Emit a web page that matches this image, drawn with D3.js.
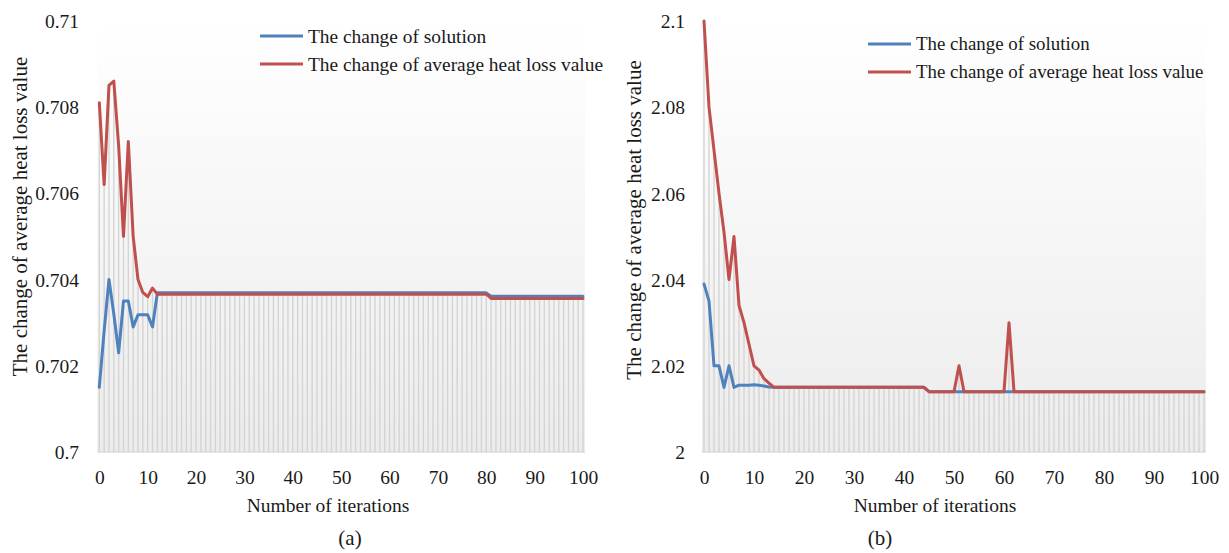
<!DOCTYPE html>
<html>
<head>
<meta charset="utf-8">
<script src="https://cdn.jsdelivr.net/npm/d3@7"></script>
<style>
  html, body { margin: 0; padding: 0; background: #ffffff; }
  svg { display: block; }
  svg text { font-family: "Times New Roman", "Liberation Serif", "DejaVu Serif", serif; fill: #1a1a1a; }
</style>
</head>
<body>
<svg id="chart" width="1229" height="553"></svg>
<script>
// Iteration index shared by both panels
const iterations = [
  0, 1, 2, 3, 4, 5, 6, 7, 8, 9,
  10, 11, 12, 13, 14, 15, 16, 17, 18, 19,
  20, 21, 22, 23, 24, 25, 26, 27, 28, 29,
  30, 31, 32, 33, 34, 35, 36, 37, 38, 39,
  40, 41, 42, 43, 44, 45, 46, 47, 48, 49,
  50, 51, 52, 53, 54, 55, 56, 57, 58, 59,
  60, 61, 62, 63, 64, 65, 66, 67, 68, 69,
  70, 71, 72, 73, 74, 75, 76, 77, 78, 79,
  80, 81, 82, 83, 84, 85, 86, 87, 88, 89,
  90, 91, 92, 93, 94, 95, 96, 97, 98, 99,
  100
];

// Panel (a)
const solutionA = [
  0.7015, 0.7028, 0.7040, 0.7032, 0.7023, 0.7035, 0.7035, 0.7029, 0.70318, 0.70318,
  0.70318, 0.7029, 0.70369, 0.70369, 0.70369, 0.70369, 0.70369, 0.70369, 0.70369, 0.70369,
  0.70369, 0.70369, 0.70369, 0.70369, 0.70369, 0.70369, 0.70369, 0.70369, 0.70369, 0.70369,
  0.70369, 0.70369, 0.70369, 0.70369, 0.70369, 0.70369, 0.70369, 0.70369, 0.70369, 0.70369,
  0.70369, 0.70369, 0.70369, 0.70369, 0.70369, 0.70369, 0.70369, 0.70369, 0.70369, 0.70369,
  0.70369, 0.70369, 0.70369, 0.70369, 0.70369, 0.70369, 0.70369, 0.70369, 0.70369, 0.70369,
  0.70369, 0.70369, 0.70369, 0.70369, 0.70369, 0.70369, 0.70369, 0.70369, 0.70369, 0.70369,
  0.70369, 0.70369, 0.70369, 0.70369, 0.70369, 0.70369, 0.70369, 0.70369, 0.70369, 0.70369,
  0.70369, 0.70361, 0.70361, 0.70361, 0.70361, 0.70361, 0.70361, 0.70361, 0.70361, 0.70361,
  0.70361, 0.70361, 0.70361, 0.70361, 0.70361, 0.70361, 0.70361, 0.70361, 0.70361, 0.70361,
  0.70361
];
const heatLossA = [
  0.7081, 0.7062, 0.7085, 0.7086, 0.7071, 0.7050, 0.7072, 0.7050, 0.7040, 0.7037,
  0.7036, 0.7038, 0.70366, 0.70366, 0.70366, 0.70366, 0.70366, 0.70366, 0.70366, 0.70366,
  0.70366, 0.70366, 0.70366, 0.70366, 0.70366, 0.70366, 0.70366, 0.70366, 0.70366, 0.70366,
  0.70366, 0.70366, 0.70366, 0.70366, 0.70366, 0.70366, 0.70366, 0.70366, 0.70366, 0.70366,
  0.70366, 0.70366, 0.70366, 0.70366, 0.70366, 0.70366, 0.70366, 0.70366, 0.70366, 0.70366,
  0.70366, 0.70366, 0.70366, 0.70366, 0.70366, 0.70366, 0.70366, 0.70366, 0.70366, 0.70366,
  0.70366, 0.70366, 0.70366, 0.70366, 0.70366, 0.70366, 0.70366, 0.70366, 0.70366, 0.70366,
  0.70366, 0.70366, 0.70366, 0.70366, 0.70366, 0.70366, 0.70366, 0.70366, 0.70366, 0.70366,
  0.70366, 0.70356, 0.70356, 0.70356, 0.70356, 0.70356, 0.70356, 0.70356, 0.70356, 0.70356,
  0.70356, 0.70356, 0.70356, 0.70356, 0.70356, 0.70356, 0.70356, 0.70356, 0.70356, 0.70356,
  0.70356
];
const yTicksA = [0.7, 0.702, 0.704, 0.706, 0.708, 0.71];
const yTickLabelsA = ["0.7", "0.702", "0.704", "0.706", "0.708", "0.71"];

// Panel (b)
const solutionB = [
  2.039, 2.035, 2.020, 2.020, 2.015, 2.020, 2.015, 2.0155, 2.0155, 2.0155,
  2.0156, 2.0155, 2.0153, 2.0151, 2.015, 2.015, 2.015, 2.015, 2.015, 2.015,
  2.015, 2.015, 2.015, 2.015, 2.015, 2.015, 2.015, 2.015, 2.015, 2.015,
  2.015, 2.015, 2.015, 2.015, 2.015, 2.015, 2.015, 2.015, 2.015, 2.015,
  2.015, 2.015, 2.015, 2.015, 2.015, 2.014, 2.014, 2.014, 2.014, 2.014,
  2.014, 2.014, 2.014, 2.014, 2.014, 2.014, 2.014, 2.014, 2.014, 2.014,
  2.014, 2.014, 2.014, 2.014, 2.014, 2.014, 2.014, 2.014, 2.014, 2.014,
  2.014, 2.014, 2.014, 2.014, 2.014, 2.014, 2.014, 2.014, 2.014, 2.014,
  2.014, 2.014, 2.014, 2.014, 2.014, 2.014, 2.014, 2.014, 2.014, 2.014,
  2.014, 2.014, 2.014, 2.014, 2.014, 2.014, 2.014, 2.014, 2.014, 2.014,
  2.014
];
const heatLossB = [
  2.100, 2.080, 2.070, 2.060, 2.051, 2.040, 2.050, 2.034, 2.030, 2.025,
  2.020, 2.019, 2.017, 2.016, 2.015, 2.015, 2.015, 2.015, 2.015, 2.015,
  2.015, 2.015, 2.015, 2.015, 2.015, 2.015, 2.015, 2.015, 2.015, 2.015,
  2.015, 2.015, 2.015, 2.015, 2.015, 2.015, 2.015, 2.015, 2.015, 2.015,
  2.015, 2.015, 2.015, 2.015, 2.015, 2.014, 2.014, 2.014, 2.014, 2.014,
  2.014, 2.020, 2.014, 2.014, 2.014, 2.014, 2.014, 2.014, 2.014, 2.014,
  2.014, 2.030, 2.014, 2.014, 2.014, 2.014, 2.014, 2.014, 2.014, 2.014,
  2.014, 2.014, 2.014, 2.014, 2.014, 2.014, 2.014, 2.014, 2.014, 2.014,
  2.014, 2.014, 2.014, 2.014, 2.014, 2.014, 2.014, 2.014, 2.014, 2.014,
  2.014, 2.014, 2.014, 2.014, 2.014, 2.014, 2.014, 2.014, 2.014, 2.014,
  2.014
];
const yTicksB = [2, 2.02, 2.04, 2.06, 2.08, 2.1];
const yTickLabelsB = ["2", "2.02", "2.04", "2.06", "2.08", "2.1"];

const xTicks = [0, 10, 20, 30, 40, 50, 60, 70, 80, 90, 100];
const seriesNames = ["The change of solution", "The change of average heat loss value"];
const yTitle = "The change of average heat loss value";
const xTitle = "Number of iterations";

const colors = { solution: "#4f81bd", heat: "#c0504d" };
const SERIF = '"Times New Roman", "Liberation Serif", "DejaVu Serif", serif';

const svg = d3.select("#chart");

// Shared vertical gradient for the plot areas
const defs = svg.append("defs");
const grad = defs.append("linearGradient")
  .attr("id", "plotFill").attr("x1", 0).attr("y1", 0).attr("x2", 0).attr("y2", 1);
grad.append("stop").attr("offset", "0%").attr("stop-color", "#ffffff");
grad.append("stop").attr("offset", "100%").attr("stop-color", "#ececec");

function drawPanel(cfg) {
  const g = svg.append("g");
  const x = d3.scaleLinear().domain([0, 100]).range([cfg.x0, cfg.x1]);
  const y = d3.scaleLinear().domain(cfg.yDomain).range([452, cfg.yTop]);

  // plot-area background
  g.append("rect")
    .attr("x", x(0) - 2).attr("y", y(cfg.yDomain[1]))
    .attr("width", x(100) - x(0) + 4).attr("height", y(cfg.yDomain[0]) - y(cfg.yDomain[1]))
    .attr("fill", "url(#plotFill)");

  // drop lines from the upper series down to the category axis
  g.append("g").selectAll("line")
    .data(iterations)
    .join("line")
    .attr("x1", d => x(d)).attr("x2", d => x(d))
    .attr("y1", (d, i) => y(Math.max(cfg.solution[i], cfg.heat[i])))
    .attr("y2", y(cfg.yDomain[0]))
    .attr("stroke", "#d4d4d4").attr("stroke-width", 1.4);

  // category axis line
  g.append("line")
    .attr("x1", x(0) - 2).attr("x2", x(100) + 2)
    .attr("y1", y(cfg.yDomain[0])).attr("y2", y(cfg.yDomain[0]))
    .attr("stroke", "#d0d0d0").attr("stroke-width", 1.2);

  // x axis tick labels
  const xAxis = d3.axisBottom(x).tickValues(xTicks).tickSize(0).tickPadding(0).tickFormat(d3.format("d"));
  const xg = g.append("g").attr("transform", `translate(0,${y(cfg.yDomain[0])})`).call(xAxis);
  xg.attr("font-family", SERIF).attr("font-size", 19.5);
  xg.select(".domain").remove();
  xg.selectAll("text")
    .attr("y", 32).attr("dy", null)
    .style("font-family", SERIF).style("font-size", "19.5px").attr("fill", "#1a1a1a");

  // y axis tick labels
  const yAxis = d3.axisLeft(y).tickValues(cfg.yTicks).tickSize(0).tickPadding(0)
    .tickFormat((d, i) => cfg.yTickLabels[i]);
  const yg = g.append("g").attr("transform", `translate(${cfg.yLabelX},0)`).call(yAxis);
  yg.attr("font-family", SERIF).attr("font-size", 19.5);
  yg.select(".domain").remove();
  yg.selectAll("text")
    .attr("x", 0).attr("dy", "0.34em")
    .style("font-family", SERIF).style("font-size", "19.5px").attr("fill", "#1a1a1a");

  // series lines
  const line = arr => d3.line()
    .x((d, i) => x(d))
    .y((d, i) => y(arr[i]))(iterations);

  g.append("path").attr("d", line(cfg.solution))
    .attr("fill", "none").attr("stroke", colors.solution).attr("stroke-width", 3)
    .attr("stroke-linejoin", "round").attr("stroke-linecap", "round");
  g.append("path").attr("d", line(cfg.heat))
    .attr("fill", "none").attr("stroke", colors.heat).attr("stroke-width", 3)
    .attr("stroke-linejoin", "round").attr("stroke-linecap", "round");

  // legend
  const leg = g.append("g").attr("transform", `translate(${cfg.legX},${cfg.legY})`);
  [colors.solution, colors.heat].forEach((c, i) => {
    leg.append("line").attr("x1", 0).attr("x2", 43)
      .attr("y1", i * 28).attr("y2", i * 28)
      .attr("stroke", c).attr("stroke-width", 3);
    leg.append("text").attr("x", 48).attr("y", i * 28).attr("dy", "0.34em")
      .style("font-family", SERIF).style("font-size", cfg.legFont + "px").text(seriesNames[i]);
  });

  // axis titles
  g.append("text")
    .attr("transform", `translate(${cfg.yTitleX},${cfg.yTitleY}) rotate(-90)`)
    .attr("text-anchor", "middle").attr("dy", "0.34em")
    .style("font-family", SERIF).style("font-size", "21px").text(yTitle);
  g.append("text")
    .attr("x", cfg.xTitleX).attr("y", 512)
    .attr("text-anchor", "middle")
    .style("font-family", SERIF).style("font-size", "19.5px").text(xTitle);
  g.append("text")
    .attr("x", cfg.captionX).attr("y", 545)
    .attr("text-anchor", "middle")
    .style("font-family", SERIF).style("font-size", "21px").text(cfg.caption);
}

drawPanel({
  solution: solutionA, heat: heatLossA,
  yDomain: [0.7, 0.71], yTop: 20.7, yTicks: yTicksA, yTickLabels: yTickLabelsA,
  x0: 99.3, x1: 583, yLabelX: 79,
  legX: 260, legY: 36, legFont: 19.4,
  yTitleX: 20, yTitleY: 216.5,
  xTitleX: 328,
  captionX: 350, caption: "(a)"
});

drawPanel({
  solution: solutionB, heat: heatLossB,
  yDomain: [2, 2.1], yTop: 21, yTicks: yTicksB, yTickLabels: yTickLabelsB,
  x0: 704, x1: 1204, yLabelX: 685,
  legX: 868, legY: 44, legFont: 18.9,
  yTitleX: 634, yTitleY: 220,
  xTitleX: 935,
  captionX: 880, caption: "(b)"
});
</script>
</body>
</html>
